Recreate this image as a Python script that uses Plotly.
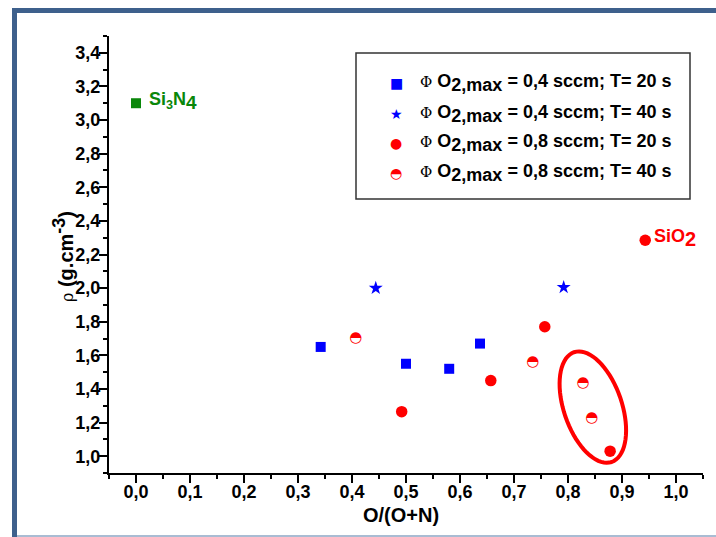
import math
import plotly.graph_objects as go

# ---------------- data ----------------
x_sq_04_20 = [0.342, 0.500, 0.580, 0.637]
y_sq_04_20 = [1.65, 1.55, 1.52, 1.67]

x_star_04_40 = [0.444, 0.792]
y_star_04_40 = [2.00, 2.005]

x_circ_08_20 = [0.492, 0.657, 0.757, 0.878]
y_circ_08_20 = [1.265, 1.45, 1.77, 1.03]

x_half_08_40 = [0.407, 0.735, 0.828, 0.844]
y_half_08_40 = [1.70, 1.56, 1.435, 1.225]

x_si3n4 = [0.0]
y_si3n4 = [3.10]
x_sio2 = [0.943]
y_sio2 = [2.285]

legend_labels = [
    "0,4 sccm; T= 20 s",
    "0,4 sccm; T= 40 s",
    "0,8 sccm; T= 20 s",
    "0,8 sccm; T= 40 s",
]
legend_glyphs = ["■", "★", "●", "◓"]
legend_colors = ["#0000FF", "#0000FF", "#FF0000", "#FF0000"]

# ---------------- geometry ----------------
W, H = 716, 537
PL, PR, PT, PB = 109, 703, 36, 473
XR = [-0.05, 1.05]
YR = [0.9, 3.5]
FONT = "Liberation Sans, Arial, sans-serif"
BLUE, RED, GREEN = "#0000FF", "#FF0000", "#0a870a"


def paper(px, py):
    return (px - PL) / (PR - PL), (PB - py) / (PB - PT)


fig = go.Figure()

fig.add_trace(go.Scatter(x=x_sq_04_20, y=y_sq_04_20, mode="markers",
                         marker=dict(symbol="square", size=10, color=BLUE),
                         showlegend=False))
fig.add_trace(go.Scatter(x=x_star_04_40, y=y_star_04_40, mode="markers",
                         marker=dict(symbol="star", size=10.5, color=BLUE),
                         showlegend=False))
fig.add_trace(go.Scatter(x=x_circ_08_20, y=y_circ_08_20, mode="markers",
                         marker=dict(symbol="circle", size=11.5, color=RED),
                         showlegend=False))
fig.add_trace(go.Scatter(x=x_half_08_40, y=y_half_08_40, mode="text",
                         text=["◓"] * len(x_half_08_40), textposition="middle center",
                         textfont=dict(family="DejaVu Sans", size=15, color=RED),
                         showlegend=False))
fig.add_trace(go.Scatter(x=x_si3n4, y=y_si3n4, mode="markers",
                         marker=dict(symbol="square", size=10, color=GREEN),
                         showlegend=False))
fig.add_trace(go.Scatter(x=x_sio2, y=y_sio2, mode="markers",
                         marker=dict(symbol="circle", size=11.5, color=RED),
                         showlegend=False))

# ---------------- ellipse (highlight) ----------------
sx = (PR - PL) / (XR[1] - XR[0])
sy = (PB - PT) / (YR[1] - YR[0])
ecx, ecy = 0.846, 1.292          # centre in data units
ea, eb = 58.0, 29.0              # semi axes in pixels
th = math.radians(18.9)
d = (math.sin(th), math.cos(th))
n = (math.cos(th), -math.sin(th))
pts = []
for k in range(73):
    t = 2 * math.pi * k / 72
    u, v = ea * math.cos(t), eb * math.sin(t)
    dx = u * d[0] + v * n[0]
    dy = u * d[1] + v * n[1]
    pts.append((ecx + dx / sx, ecy - dy / sy))
path = "M " + " L ".join(f"{a:.5f},{b:.5f}" for a, b in pts) + " Z"

shapes = [dict(type="path", path=path, xref="x", yref="y",
               line=dict(color=RED, width=4), fillcolor="rgba(0,0,0,0)")]

# frame decoration (blue bars)
def rect_px(x0, y0, x1, y1, color):
    a0, b0 = paper(x0, y0)
    a1, b1 = paper(x1, y1)
    return dict(type="rect", xref="paper", yref="paper", x0=a0, y0=b0, x1=a1, y1=b1,
                line=dict(width=0), fillcolor=color, layer="above")

shapes.append(rect_px(12, 8, W, 13, "#3E608C"))
shapes.append(rect_px(12, 8, 17, H, "#3E608C"))
shapes.append(rect_px(17, 535, W, H, "#A9BCD3"))

# legend box
lx0, ly0 = paper(356, 53)
lx1, ly1 = paper(690, 199)
shapes.append(dict(type="rect", xref="paper", yref="paper", x0=lx0, y0=ly0, x1=lx1, y1=ly1,
                   line=dict(color="#333333", width=1.5), fillcolor="white", layer="below"))

annotations = []
rows_y = [83, 114, 143, 173]
for g, c, lab, ry in zip(legend_glyphs, legend_colors, legend_labels, rows_y):
    gx, gy = paper(396, ry)
    annotations.append(dict(x=gx, y=gy, xref="paper", yref="paper", text=g, showarrow=False,
                            xanchor="center", yanchor="middle",
                            font=dict(family="DejaVu Sans", size=14, color=c)))
    tx, ty = paper(418, ry)
    txt = ("<span style='font-family:DejaVu Serif;font-weight:normal;font-size:15px'>Φ</span> "
           "O<sub><span style='font-size:18px'>2,max</span></sub> = " + lab)
    annotations.append(dict(x=tx, y=ty, xref="paper", yref="paper", text=txt, showarrow=False,
                            xanchor="left", yanchor="middle",
                            font=dict(family=FONT, size=18, color="black", weight="bold")))

# point labels
annotations.append(dict(x=x_si3n4[0], y=y_si3n4[0], xref="x", yref="y", xshift=11, yshift=2,
                        text="Si<sub>3</sub>N<sub><span style='font-size:19px'>4</span></sub>",
                        showarrow=False, xanchor="left", yanchor="middle",
                        font=dict(family=FONT, size=18, color=GREEN, weight="bold")))
annotations.append(dict(x=x_sio2[0], y=y_sio2[0], xref="x", yref="y", xshift=7, yshift=2,
                        text="SiO<sub><span style='font-size:20px'>2</span></sub>",
                        showarrow=False, xanchor="left", yanchor="middle",
                        font=dict(family=FONT, size=18, color=RED, weight="bold")))

# axis titles
ax, ay = paper(401, 515)
annotations.append(dict(x=ax, y=ay, xref="paper", yref="paper", text="O/(O+N)", showarrow=False,
                        xanchor="center", yanchor="middle",
                        font=dict(family=FONT, size=20, color="black", weight="bold")))
bx, by = paper(63, 257)
annotations.append(dict(x=bx, y=by, xref="paper", yref="paper", textangle=-90,
                        text="<span style='font-family:DejaVu Serif;font-weight:normal;font-size:16px'>ρ</span>"
                             " (g.cm<sup><span style='font-size:18px'>-3</span></sup>)",
                        showarrow=False, xanchor="center", yanchor="middle",
                        font=dict(family=FONT, size=20, color="black", weight="bold")))

tickfont = dict(family=FONT, size=18, color="black", weight="bold")

fig.update_layout(
    width=W, height=H,
    margin=dict(l=PL, r=W - PR, t=PT, b=H - PB, pad=0),
    paper_bgcolor="white", plot_bgcolor="white",
    separators=", ",
    showlegend=False,
    hovermode=False,
    font=dict(family=FONT, color="black"),
    shapes=shapes,
    annotations=annotations,
    xaxis=dict(range=XR, tickmode="linear", tick0=0, dtick=0.1, tickformat=".1f",
               ticks="outside", ticklen=8, tickwidth=2, tickcolor="black",
               ticklabelstandoff=-7,
               minor=dict(dtick=0.05, tick0=0, ticks="outside", ticklen=4, tickwidth=2,
                          tickcolor="black"),
               showline=True, linewidth=2, linecolor="black", showgrid=False, zeroline=False,
               tickfont=tickfont),
    yaxis=dict(range=YR, tickmode="linear", tick0=1.0, dtick=0.2, tickformat=".1f",
               ticks="outside", ticklen=8, tickwidth=2, tickcolor="black",
               ticklabelstandoff=-5,
               minor=dict(dtick=0.1, tick0=0.9, ticks="outside", ticklen=4, tickwidth=2,
                          tickcolor="black"),
               showline=True, linewidth=2, linecolor="black", showgrid=False, zeroline=False,
               tickfont=tickfont),
    xaxis2=dict(overlaying="x", side="top", anchor="y", range=[0, 12],
                tickmode="array", tickvals=[1, 3, 5, 7, 9, 11], ticks="inside", ticklen=9,
                tickwidth=2, tickcolor="black",
                minor=dict(tickmode="array", tickvals=[2, 4, 6, 8, 10], ticks="inside",
                           ticklen=4, tickwidth=2, tickcolor="black"),
                showticklabels=False, showline=True, linewidth=2, linecolor="black",
                showgrid=False, zeroline=False),
    yaxis2=dict(overlaying="y", side="right", anchor="x", range=[-0.19, 9.01],
                tickmode="array", tickvals=[0, 2, 4, 6, 8], ticks="inside", ticklen=9,
                tickwidth=2, tickcolor="black",
                minor=dict(tickmode="array", tickvals=[1, 3, 5, 7], ticks="inside",
                           ticklen=5, tickwidth=2, tickcolor="black"),
                showticklabels=False, showline=True, linewidth=2, linecolor="black",
                showgrid=False, zeroline=False),
)

fig.write_html("out.html", config={"displayModeBar": False},
               post_script="document.body.style.margin='0';")
